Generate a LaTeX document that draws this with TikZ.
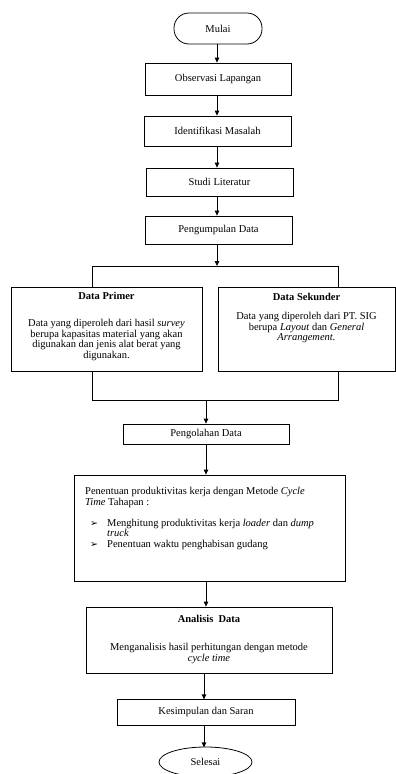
\documentclass[tikz,border=0pt]{standalone}
\usepackage{fontspec}
\setmainfont{Liberation Serif}
\newfontfamily\dejavu{DejaVu Sans}
\usetikzlibrary{arrows.meta,shapes.geometric}
\tikzset{
  bx/.style={draw, line width=0.8pt, inner sep=0pt, align=center},
  txt/.style={inner sep=0pt, align=center},
  arr/.style={line width=0.8pt, -{Triangle[length=5pt,width=4.5pt]}},
  ln/.style={line width=0.8pt},
}
\newcommand{\bul}{\makebox[17pt][l]{\dejavu\fontsize{9.5}{9.5}\selectfont ➢}}
\begin{document}
\begin{tikzpicture}[x=1pt,y=1pt,font=\fontsize{10.5}{10.5}\selectfont]
\useasboundingbox (0,0) rectangle (396,-774);
\node[bx, minimum width=88, minimum height=31, rounded corners=15pt] (mulai) at (218,-28.5) {Mulai};
\node[bx, minimum width=146, minimum height=32] (obs) at (218,-79) {Observasi Lapangan};
\node[bx, minimum width=147, minimum height=30] (ident) at (217.5,-131) {Identifikasi Masalah};
\node[bx, minimum width=147, minimum height=28] (studi) at (219.5,-182) {Studi Literatur};
\node[bx, minimum width=147, minimum height=28] (peng) at (218.5,-230) {Pengumpulan Data};
\node[bx, minimum width=191, minimum height=84] (primer) at (106.5,-329) {};
\node[bx, minimum width=177, minimum height=84] (sekunder) at (306.5,-329) {};
\node[bx, minimum width=166, minimum height=20] (olah) at (206,-434) {Pengolahan Data};
\node[bx, minimum width=271, minimum height=106] (pen) at (209.5,-528) {};
\node[bx, minimum width=246, minimum height=66] (anal) at (209,-640) {};
\node[bx, minimum width=178, minimum height=26] (kes) at (206,-712) {Kesimpulan dan Saran};
\node[bx, ellipse, minimum width=93, minimum height=30] (sel) at (205.5,-762) {Selesai};

\node[txt, anchor=north] (primerT) at (106.5,-292.5) {\textbf{Data Primer}\\[16.5pt]
Data yang diperoleh dari hasil \textit{survey}\\
berupa kapasitas material yang akan\\
digunakan dan jenis alat berat yang\\
digunakan.};
\node[txt, anchor=north] (sekunderT) at (306.5,-293.5) {\textbf{Data Sekunder}\\[8.5pt]
Data yang diperoleh dari PT. SIG\\
berupa \textit{Layout} dan \textit{General}\\
\textit{Arrangement.}};
\node[txt, anchor=north west, align=left] (penT) at (85,-487.5) {Penentuan produktivitas kerja dengan Metode \textit{Cycle}\\
\textit{Time} Tahapan :\\[10.5pt]
\hspace*{5pt}\bul Menghitung produktivitas kerja \textit{loader} dan \textit{dump}\\
\hspace*{22pt}\textit{truck}\\
\hspace*{5pt}\bul Penentuan waktu penghabisan gudang};
\node[txt, anchor=north] (analT) at (209,-615.5) {\textbf{Analisis\ \ Data}\\[17.5pt]
Menganalisis hasil perhitungan dengan metode\\
\textit{cycle time}};

\coordinate (sp) at (217,-266);
\coordinate (sl) at (92,-266);
\coordinate (sr) at (338,-266);
\coordinate (jl) at (92,-400);
\coordinate (jr) at (338,-400);
\coordinate (jm) at (206,-400);

\draw[arr] (mulai.south -| sp) -- (obs.north -| sp);
\draw[arr] (obs.south -| sp) -- (ident.north -| sp);
\draw[arr] (ident.south -| sp) -- (studi.north -| sp);
\draw[arr] (studi.south -| sp) -- (peng.north -| sp);
\draw[arr] (peng.south -| sp) -- (sp);
\draw[ln] (primer.north -| sl) -- (sl) -- (sr) -- (sekunder.north -| sr);
\draw[ln] (primer.south -| jl) -- (jl) -- (jr) -- (sekunder.south -| jr);
\draw[arr] (jm) -- (olah);
\draw[arr] (olah) -- (pen.north -| olah);
\draw[arr] (pen.south -| olah) -- (anal.north -| olah);
\draw[arr] (anal.south -| kes) ++(-2,0) -- ++(0,-26);
\draw[arr] (kes.south) ++(-2,0) -- ++(0,-22);
\end{tikzpicture}
\end{document}
